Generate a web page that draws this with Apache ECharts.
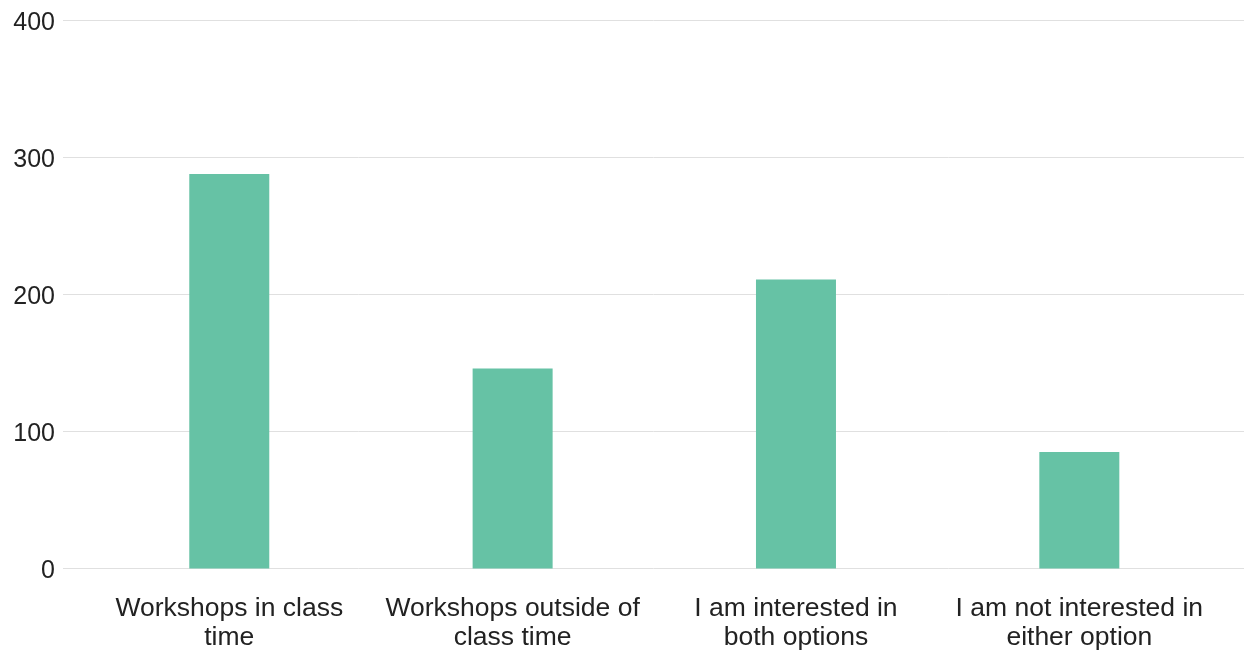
<!DOCTYPE html>
<html>
<head>
<meta charset="utf-8">
<script src="https://cdn.jsdelivr.net/npm/echarts@6/dist/echarts.min.js"></script>
<style>html,body{margin:0;padding:0;background:#fff;}#c{width:1244px;height:650px;}</style>
</head>
<body>
<div id="c"></div>
<script>
const categories = [
  "Workshops in class\ntime",
  "Workshops outside of\nclass time",
  "I am interested in\nboth options",
  "I am not interested in\neither option"
];
const values = [288, 146, 211, 85];
const yTicks = [0, 100, 200, 300, 400];

const chart = echarts.init(document.getElementById('c'));
const font = '"Liberation Sans", Arial, sans-serif';
chart.setOption({
  animation: false,
  backgroundColor: '#ffffff',
  grid: [
    {left: 87.6, right: 23, top: 20.5, bottom: 81.5, containLabel: false, outerBoundsMode: 'none'},
    {left: 63, right: 0, top: 20.5, bottom: 81.5, containLabel: false, outerBoundsMode: 'none'}
  ],
  xAxis: [
    {
      type: 'category', gridIndex: 0, data: categories,
      axisLine: {show: false}, axisTick: {show: false},
      axisLabel: {color: '#222', fontSize: 26.5, fontFamily: font, lineHeight: 29.5, margin: 25, interval: 0}
    },
    {type: 'value', gridIndex: 1, show: false, min: 0, max: 1}
  ],
  yAxis: [
    {type: 'value', gridIndex: 0, min: yTicks[0], max: yTicks[yTicks.length-1], interval: 100, show: false, splitLine: {show: false}},
    {
      type: 'value', gridIndex: 1, min: yTicks[0], max: yTicks[yTicks.length-1], interval: 100,
      axisLine: {show: false}, axisTick: {show: false},
      axisLabel: {color: '#222', fontSize: 25, fontFamily: font, margin: 8, verticalAlign: 'top', lineHeight: 5},
      splitLine: {lineStyle: {color: '#e0e0e0', width: 1}}
    }
  ],
  series: [
    {
      type: 'bar', xAxisIndex: 0, yAxisIndex: 0, data: values, barWidth: 80,
      itemStyle: {color: '#66c2a5'}
    }
  ]
});
</script>
</body>
</html>
